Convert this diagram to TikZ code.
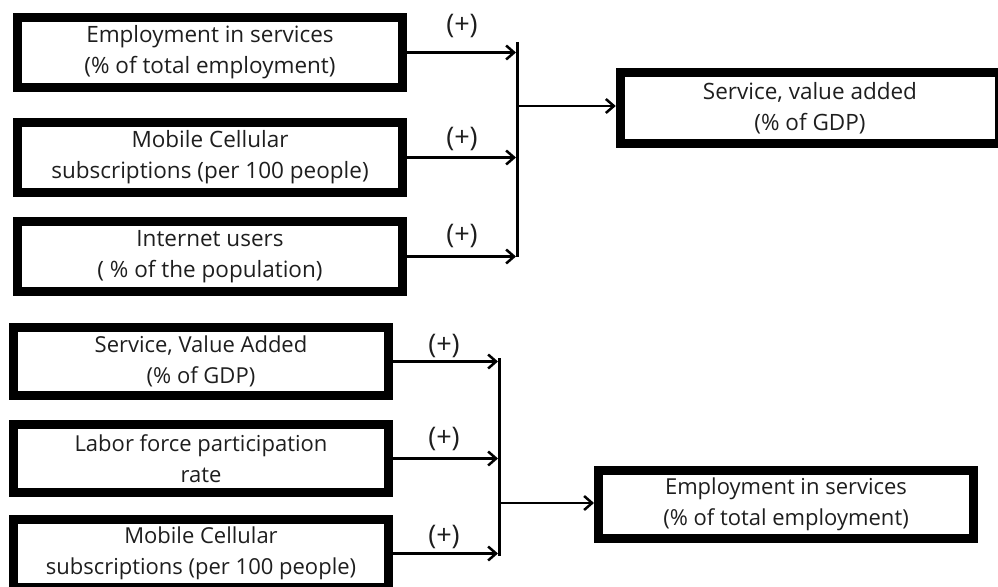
\documentclass[tikz,border=0pt]{standalone}
\usepackage{fontspec}
\setmainfont{Open Sans}
\usetikzlibrary{arrows.meta}
\definecolor{ink}{HTML}{1E1E1E}
\begin{document}
\begin{tikzpicture}[x=1pt,y=-1pt,
    factor/.style={draw=black, line width=9pt, text=ink, align=center,
      font=\fontsize{22.5}{31}\selectfont, inner sep=0pt},
    topbox/.style={factor, minimum width=385pt, minimum height=70pt},
    lowbox/.style={factor, font=\fontsize{22}{31}\selectfont,
      minimum width=374.5pt, minimum height=68pt},
    link/.style={line width=2.5pt, -{Straight Barb[length=8pt,width=14pt,line width=2.5pt]}},
    bar/.style={line width=3pt},
    sign/.style={text=ink, font=\fontsize{27}{30}\selectfont}]
  \path[use as bounding box, clip] (0,0) rectangle (998,586);
  % first model
  \node[topbox] (emp) at (210,52.5) {Employment in services\\(\% of total employment)};
  \node[topbox] (mob) at (210,157.5) {Mobile Cellular\\subscriptions (per 100 people)};
  \node[topbox] (net) at (210,256.5) {Internet users\\( \% of the population)};
  \node[factor, minimum width=379.5pt, minimum height=71pt] (sva) at (810,108)
    {Service, value added\\(\% of GDP)};
  \coordinate (barAtop) at (517.5,42);
  \coordinate (barAbot) at (517.5,256.5);
  \coordinate (joinA) at (519,106);
  \draw[bar] (barAtop) -- (barAbot);
  \foreach \n in {emp,mob,net}
    \draw[link] (\n.east) -- (\n.east -| 516,0);
  \draw[link] (joinA) -- (joinA -| sva.west);
  \node[sign] (signA1) at (462,26) {(+)};
  \node[sign] (signA2) at (462,139) {(+)};
  \node[sign] (signA3) at (462,236) {(+)};
  % second model
  \node[lowbox] (sva2) at (201,361.5) {Service, Value Added\\(\% of GDP)};
  \node[lowbox] (lab) at (201,458.5) {Labor force participation\\rate};
  \node[lowbox] (mob2) at (201,553.5) {Mobile Cellular\\subscriptions (per 100 people)};
  \node[factor, font=\fontsize{22}{31}\selectfont, minimum width=375pt,
    minimum height=68pt] (emp2) at (786,504.5)
    {Employment in services\\(\% of total employment)};
  \coordinate (barBtop) at (499.5,358);
  \coordinate (barBbot) at (499.5,556);
  \coordinate (joinB) at (501,503);
  \draw[bar] (barBtop) -- (barBbot);
  \foreach \n in {sva2,lab,mob2}
    \draw[link] (\n.east) -- (\n.east -| 498,0);
  \draw[link] (joinB) -- (joinB -| emp2.west);
  \node[sign] (signB1) at (444,346) {(+)};
  \node[sign] (signB2) at (444,439) {(+)};
  \node[sign] (signB3) at (444,537) {(+)};
\end{tikzpicture}
\end{document}
